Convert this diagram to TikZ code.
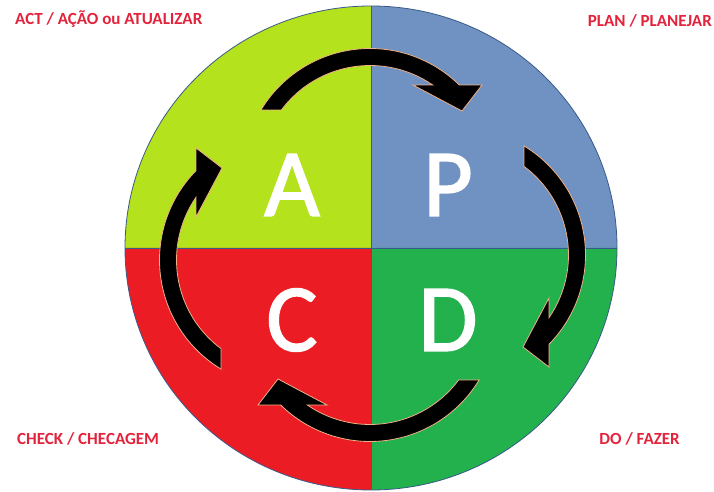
\documentclass[tikz,border=0pt]{standalone}
\usepackage{fontspec}
\setmainfont{Carlito}
\newfontfamily\stagefont[FakeBold=1.6]{Carlito}
\usepackage{tikz}
\definecolor{actgreen}{HTML}{B4E21C}
\definecolor{planblue}{HTML}{6F92C2}
\definecolor{checkred}{HTML}{EC1C24}
\definecolor{dogreen}{HTML}{22B14C}
\definecolor{labelred}{HTML}{E3233B}
\definecolor{rimblue}{HTML}{3A5A8A}
\definecolor{arrowedge}{HTML}{F1B287}
\tikzset{
  rim/.style={draw=rimblue,line width=0.8pt},
  cyclearrow/.style={fill=black,draw=arrowedge,line width=0.8pt,line join=miter},
  stage/.style={text=white,font=\stagefont\fontsize{96}{96}\selectfont,inner sep=0pt},
  phase/.style={text=labelred,font=\bfseries\fontsize{17}{20}\selectfont,inner sep=0pt}
}
% one curved arrow: #1 centre of its arc, #2 rotation
\newcommand\cyclearrow[2]{%
  \begin{scope}[shift={#1},rotate=#2]
    \filldraw[cyclearrow] (148.8:127.5pt) arc[start angle=148.8,end angle=45.5,radius=127.5pt]
      -- (112,91) -- (92,65) -- (43,91) -- (55.4:110.5pt)
      arc[start angle=55.4,end angle=143.3,radius=110.5pt] -- cycle;
  \end{scope}}

\begin{document}
\begin{tikzpicture}[x=1pt,y=1pt]
\useasboundingbox (0,0) rectangle (714,492);
\coordinate (c) at (371,244);
% quarters
\fill[planblue] (c) -- ++(246,0) arc[start angle=0,end angle=90,x radius=246pt,y radius=242pt] -- cycle;
\fill[actgreen] (c) -- ++(0,242) arc[start angle=90,end angle=180,x radius=246pt,y radius=242pt] -- cycle;
\fill[checkred] (c) -- ++(-246,0) arc[start angle=180,end angle=270,x radius=246pt,y radius=242pt] -- cycle;
\fill[dogreen] (c) -- ++(0,-242) arc[start angle=270,end angle=360,x radius=246pt,y radius=242pt] -- cycle;
\draw[rimblue,line width=0.5pt] (125,244) -- (617,244) (371,2) -- (371,486);
\draw[rim] (c) ellipse[x radius=246pt,y radius=242pt];
% arrows
\cyclearrow{(370,316)}{0}
\cyclearrow{(458,237)}{-90}
\cyclearrow{(370,178)}{180}
\cyclearrow{(287,232)}{90}
% letters
\node[stage] (la) at (292,307) {A};
\node[stage] (lp) at (448,307) {P};
\node[stage] (lc) at (292,172) {C};
\node[stage] (ld) at (448,172) {D};
% labels
\node[phase,anchor=west] (act) at (15,473) {ACT / AÇÃO ou ATUALIZAR};
\node[phase,anchor=east] (plan) at (712,471) {PLAN / PLANEJAR};
\node[phase,anchor=west] (check) at (17,53) {CHECK / CHECAGEM};
\node[phase,anchor=east] (do) at (680,53) {DO / FAZER};
\end{tikzpicture}
\end{document}
